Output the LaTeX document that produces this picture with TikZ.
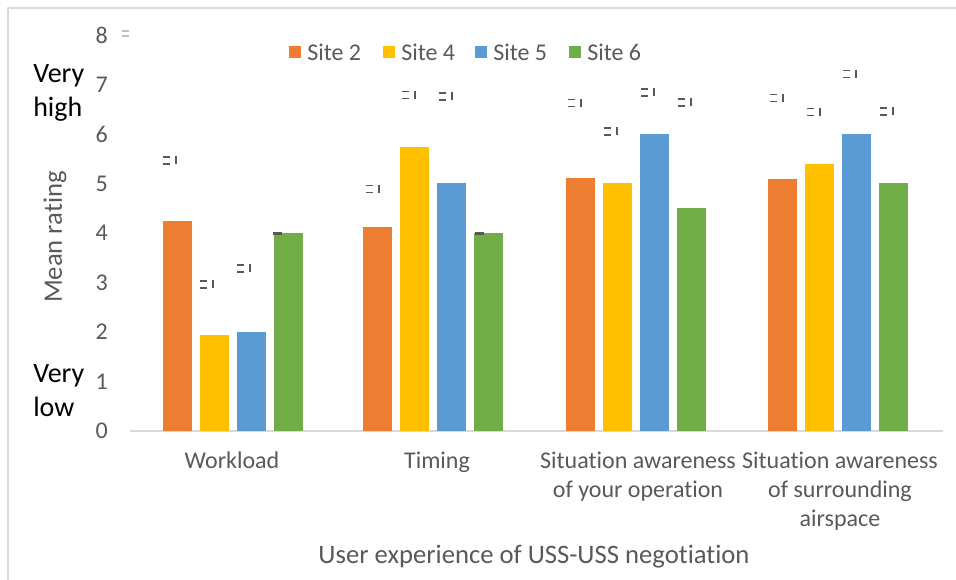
\documentclass[tikz,border=0pt]{standalone}
\usepackage{fontspec}
\setmainfont{Carlito}[Ligatures=NoCommon]
\definecolor{sitetwo}{HTML}{ED7D31}
\definecolor{sitefour}{HTML}{FFC000}
\definecolor{sitefive}{HTML}{5B9BD5}
\definecolor{sitesix}{HTML}{70AD47}
\definecolor{txtgray}{HTML}{595959}
\definecolor{gridgray}{HTML}{D9D9D9}
\tikzset{
  ticklabel/.style={text=txtgray, font=\fontsize{18}{21.75}\selectfont, inner sep=0pt},
  axistitle/.style={text=txtgray, font=\fontsize{20}{24}\selectfont, inner sep=0pt},
  endlabel/.style={font=\fontsize{21}{25.5}\selectfont, align=left, inner sep=0pt, anchor=west},
  errmark/.pic={
    \draw[txtgray, line width=1.4pt] (0,-3.5)--(7,-3.5) (0,3.5)--(7,3.5);
    \draw[txtgray, line width=1.1pt] (13,-4)--(13,4);
  }
}
\begin{document}
\begin{tikzpicture}[x=0.75pt, y=-0.75pt, line join=round]
\useasboundingbox (0,0) rectangle (956,580);
% frame and axis
\draw[gridgray, line width=1pt] (8,580)--(8,8)--(956,8);
\draw[gridgray, line width=1.1pt] (130,431)--(943,431);
% y ticks
\foreach \v in {0,...,8}
  \node[ticklabel, anchor=east] (y\v) at (108,{431-49.5*\v}) {\v};
\draw[black!25, line width=1.2pt] (122,31)--(129,31) (122,36)--(129,36);
\node[endlabel] (vhigh) at (33,93) {Very\\high};
\node[endlabel] (vlow) at (33,391) {Very\\low};
\node[axistitle, rotate=90] (ytitle) at (55,237) {Mean rating};
% bars
\foreach \c/\a/\b/\d/\e in {233/4.25/1.93/2/4, 433/4.12/5.74/5/4, 636/5.12/5/6/4.5, 838/5.1/5.4/6/5}{
  \fill[sitetwo] ({\c-70},431) rectangle ({\c-41},{431-49.5*\a});
  \fill[sitefour] ({\c-33},431) rectangle ({\c-4},{431-49.5*\b});
  \fill[sitefive] ({\c+4},431) rectangle ({\c+33},{431-49.5*\d});
  \fill[sitesix] ({\c+41},431) rectangle ({\c+70},{431-49.5*\e});
}
% error marks
\foreach \x/\y in {163/160.5, 200/284.5, 237/268.5, 366/189, 402/95, 439/96.5,
  568/103, 604/131.5, 641/92.5, 678/102.5, 770/98, 807/112, 843/74, 880/111.5}
  \pic at (\x,\y) {errmark};
\foreach \x in {273,475}
  \fill[txtgray] (\x,232.5) rectangle ({\x+9},235.5);
% legend
\foreach \x/\col/\s in {289/sitetwo/2, 383/sitefour/4, 475/sitefive/5, 569/sitesix/6}{
  \fill[\col] (\x,46) rectangle ({\x+12},58);
  \node[ticklabel, anchor=west] (leg\s) at ({\x+18},52) {Site \s};
}
% categories
\node[ticklabel, anchor=north, align=center] (cat1) at (232,452) {Workload};
\node[ticklabel, anchor=north, align=center] (cat2) at (437,452) {Timing};
\node[ticklabel, anchor=north, align=center] (cat3) at (638,452) {Situation awareness\\of your operation};
\node[ticklabel, anchor=north, align=center] (cat4) at (840,452) {Situation awareness\\of surrounding\\airspace};
\node[axistitle] (xtitle) at (534,557) {User experience of USS-USS negotiation};
\end{tikzpicture}
\end{document}
